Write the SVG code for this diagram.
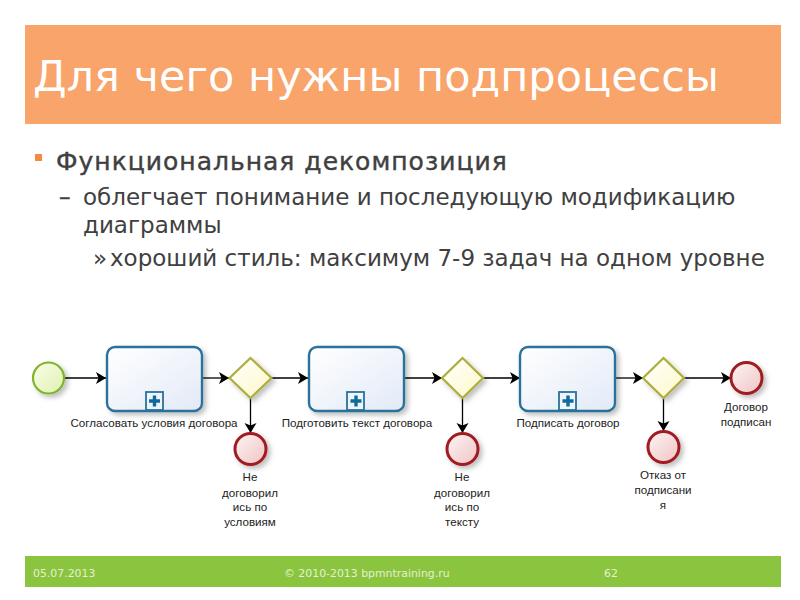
<svg xmlns="http://www.w3.org/2000/svg" width="800" height="600" viewBox="0 0 800 600">
<style>
text{font-family:"DejaVu Sans",sans-serif}
.b{fill:#404040}
.l{font-size:11.600px;fill:#222;text-anchor:middle;font-family:"Liberation Sans","DejaVu Sans",sans-serif}
.f{font-size:10.900px;fill:#e4f0d0}
.c{fill:none;stroke:#000;stroke-width:1.300}
.task{fill:url(#gt);stroke:#2a7299;stroke-width:2.400;filter:url(#sh)}
.mk{fill:#eef4fa;stroke:#2a7299;stroke-width:1.800}
.plus{fill:#0f6a9c}
.gw{fill:url(#gg);stroke:#adad3c;stroke-width:2.200;filter:url(#sh)}
.end{fill:url(#ge);stroke:#a01c22;stroke-width:3;filter:url(#sh)}
</style>
<defs>
<linearGradient id="gt" x1="0" y1="0" x2="1" y2="1"><stop offset="0" stop-color="#ffffff"/><stop offset="1" stop-color="#e2eaf7"/></linearGradient>
<linearGradient id="gg" x1="0" y1="0" x2="1" y2="1"><stop offset="0" stop-color="#ffffff"/><stop offset="1" stop-color="#fdf8c8"/></linearGradient>
<linearGradient id="ge" x1="0" y1="0" x2="1" y2="1"><stop offset="0" stop-color="#fdf4f4"/><stop offset="1" stop-color="#f0c4c4"/></linearGradient>
<linearGradient id="gs" x1="0" y1="0" x2="1" y2="1"><stop offset="0" stop-color="#fbfde8"/><stop offset="1" stop-color="#dff0b0"/></linearGradient>
<filter id="sh" x="-30%" y="-30%" width="170%" height="170%"><feDropShadow dx="3" dy="3" stdDeviation="2.500" flood-color="#000" flood-opacity="0.25"/></filter>
<marker id="a" markerUnits="userSpaceOnUse" markerWidth="12" markerHeight="14" refX="10" refY="7" orient="auto"><path d="M0 1L10 7L0 13L2.500 7Z" fill="#000"/></marker>
<g id="pl"><path d="M-1.700 -5.500H1.700V-1.700H5.500V1.700H1.700V5.500H-1.700V1.700H-5.500V-1.700H-1.700Z" class="plus"/></g>
</defs>
<rect width="800" height="600" fill="#fff"/>
<g id="header"><rect x="25" y="25" width="756" height="99" fill="#f8a46a"/>
<text x="33" y="91" font-size="43" fill="#fff">Для чего нужны подпроцессы</text></g>
<g id="body">
<rect x="35" y="154" width="7" height="7" fill="#f58a42"/>
<text class="b" x="56" y="170" font-size="25" stroke="#404040" stroke-width="0.400" letter-spacing="1">Функциональная декомпозиция</text>
<text class="b" x="59" y="205" font-size="23" stroke="#404040" stroke-width="0.500">–</text>
<text class="b" x="83" y="205" font-size="23">облегчает понимание и последующую модификацию</text>
<text class="b" x="83" y="233" font-size="23">диаграммы</text>
<text class="b" x="93" y="266" font-size="23">»</text>
<text class="b" x="110" y="266" font-size="23">хороший стиль: максимум 7-9 задач на одном уровне</text>
</g>
<g id="connectors">
<path class="c" d="M64 378H106" marker-end="url(#a)"/>
<path class="c" d="M202 378H229" marker-end="url(#a)"/>
<path class="c" d="M272 378H308" marker-end="url(#a)"/>
<path class="c" d="M403 378H442" marker-end="url(#a)"/>
<path class="c" d="M483 378H520" marker-end="url(#a)"/>
<path class="c" d="M615 378H643" marker-end="url(#a)"/>
<path class="c" d="M684 378H731" marker-end="url(#a)"/>
<path class="c" d="M250.500 398V433" marker-end="url(#a)"/>
<path class="c" d="M462.500 398V433" marker-end="url(#a)"/>
<path class="c" d="M663.500 398V431" marker-end="url(#a)"/>
</g>
<g id="start"><circle cx="48.500" cy="378" r="15.500" fill="url(#gs)" stroke="#7fb52e" stroke-width="2.200" filter="url(#sh)"/></g>
<g id="task1"><rect class="task" x="107" y="347" width="95" height="64" rx="8"/><rect class="mk" x="146" y="392" width="17" height="18"/><use href="#pl" x="154.500" y="401"/><text class="l" x="154" y="427">Согласовать условия договора</text></g>
<g id="gw1"><path class="gw" d="M250.500 358L271.500 378L250.500 398L229.500 378Z"/></g>
<g id="end1"><circle class="end" cx="250.500" cy="449" r="15.500"/><text class="l" x="250" y="481">Не</text><text class="l" x="250" y="497">договорил</text><text class="l" x="250" y="511">ись по</text><text class="l" x="250" y="526">условиям</text></g>
<g id="task2"><rect class="task" x="309" y="347" width="95" height="64" rx="8"/><rect class="mk" x="347" y="392" width="17" height="18"/><use href="#pl" x="356" y="401"/><text class="l" x="357" y="427">Подготовить текст договора</text></g>
<g id="gw2"><path class="gw" d="M462.500 358L483 378L462.500 398L442 378Z"/></g>
<g id="end2"><circle class="end" cx="462.500" cy="449" r="15.500"/><text class="l" x="462" y="481">Не</text><text class="l" x="462" y="497">договорил</text><text class="l" x="462" y="511">ись по</text><text class="l" x="462" y="526">тексту</text></g>
<g id="task3"><rect class="task" x="520" y="347" width="95" height="64" rx="8"/><rect class="mk" x="559" y="392" width="17" height="18"/><use href="#pl" x="568" y="401"/><text class="l" x="568" y="427">Подписать договор</text></g>
<g id="gw3"><path class="gw" d="M663.500 358L684 378L663.500 398L643 378Z"/></g>
<g id="end3"><circle class="end" cx="663.500" cy="447" r="15.500"/><text class="l" x="663" y="479">Отказ от</text><text class="l" x="663" y="494">подписани</text><text class="l" x="663" y="509">я</text></g>
<g id="end4"><circle class="end" cx="746.500" cy="378" r="15.500"/><text class="l" x="746" y="411">Договор</text><text class="l" x="746" y="426">подписан</text></g>
<g id="footer"><rect x="25" y="556" width="756" height="31" fill="#8bc53f"/>
<text class="f" x="33" y="577">05.07.2013</text><text class="f" x="284" y="577">© 2010-2013 bpmntraining.ru</text><text class="f" x="604" y="577">62</text></g>
</svg>
